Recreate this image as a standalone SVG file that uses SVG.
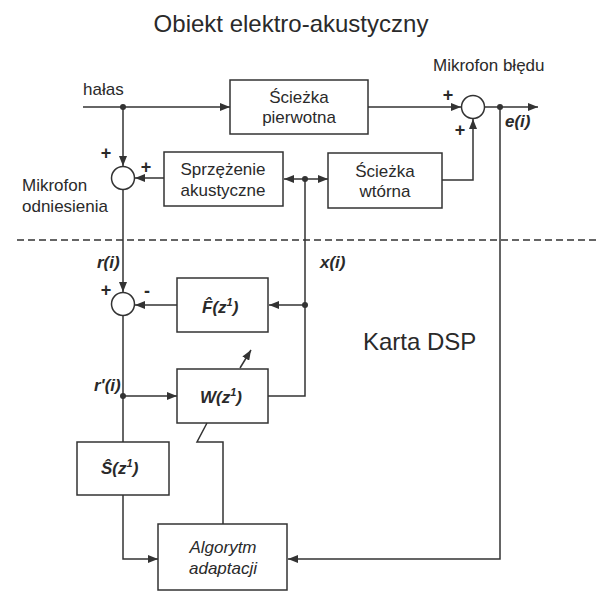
<svg xmlns="http://www.w3.org/2000/svg" width="598" height="592" viewBox="0 0 598 592">
<style>
.box{fill:none;stroke:#333;stroke-width:1.5}
.sum{fill:#fff;stroke:#333;stroke-width:1.5}
.ln{fill:none;stroke:#333;stroke-width:1.5}
.arr{marker-end:url(#ah)}
.dot{fill:#333}
text{font-family:"Liberation Sans",Arial,sans-serif;fill:#2a2a2a}
.t{font-size:17px}
.big{font-size:24px}
.c{text-anchor:middle}
.m{font-size:17px;font-style:italic;font-weight:bold}
.it{font-size:17px;font-style:italic}
.sg{font-size:18px;font-weight:bold}
</style>
<defs>
<marker id="ah" markerUnits="userSpaceOnUse" markerWidth="10" markerHeight="8" refX="10" refY="4" orient="auto">
<path d="M0,0 L10,4 L0,8 Z" fill="#333"/>
</marker>
</defs>
<rect width="598" height="592" fill="#fff"/>
<text class="big" x="291" y="32" text-anchor="middle">Obiekt elektro-akustyczny</text>
<text class="big" x="363" y="350">Karta DSP</text>
<text class="t" x="83" y="95">hałas</text>
<text class="t" x="22" y="191">Mikrofon</text>
<text class="t" x="22" y="212">odniesienia</text>
<text class="t" x="433" y="71">Mikrofon błędu</text>
<line x1="17" y1="240" x2="598" y2="240" stroke="#333" stroke-width="1.3" stroke-dasharray="7 4"/>
<g id="connectors">
<path class="ln arr" d="M83,107 H230"/>
<path class="ln arr" d="M123,107 V166"/>
<path class="ln arr" d="M164,178 H135"/>
<path class="ln arr" d="M123,190 V292"/>
<path class="ln arr" d="M305,179 H284"/>
<path class="ln arr" d="M305,179 H328"/>
<path class="ln arr" d="M368,107 H461"/>
<path class="ln arr" d="M442,180 H473 V119"/>
<path class="ln arr" d="M485,107 H538"/>
<path class="ln arr" d="M500,107 V559 H288"/>
<path class="ln" d="M305,179 V396 H268"/>
<path class="ln arr" d="M305,305 H269"/>
<path class="ln arr" d="M177,305 H135"/>
<path class="ln" d="M123,316 V442"/>
<path class="ln arr" d="M123,396 H177"/>
<path class="ln arr" d="M123,495 V559 H158"/>
<path class="ln" d="M207,423 L197,442 H223 V524"/>
<path class="ln arr" d="M240,368 L251,350"/>
<circle class="dot" cx="123" cy="107" r="3"/>
<circle class="dot" cx="305" cy="179" r="3"/>
<circle class="dot" cx="500" cy="107" r="3"/>
<circle class="dot" cx="305" cy="305" r="3"/>
<circle class="dot" cx="123" cy="396" r="3"/>
</g>
<g id="sum1">
<circle class="sum" cx="123" cy="178" r="11.5"/>
<text class="sg" x="106" y="159" text-anchor="middle">+</text>
<text class="sg" x="146" y="173" text-anchor="middle">+</text>
</g>
<g id="sum2">
<circle class="sum" cx="473" cy="107" r="11.5"/>
<text class="sg" x="448" y="101" text-anchor="middle">+</text>
<text class="sg" x="460" y="136" text-anchor="middle">+</text>
</g>
<g id="sum3">
<circle class="sum" cx="123" cy="304" r="11.5"/>
<text class="sg" x="106" y="296" text-anchor="middle">+</text>
<text class="sg" x="147" y="297" text-anchor="middle">-</text>
</g>
<g id="sciezka-pierwotna">
<rect class="box" x="230" y="80" width="138" height="54"/>
<text class="t c" x="299" y="103">Ścieżka</text>
<text class="t c" x="299" y="123">pierwotna</text>
</g>
<g id="sprzezenie">
<rect class="box" x="164" y="152" width="119" height="54"/>
<text class="t c" x="223" y="175">Sprzężenie</text>
<text class="t c" x="223" y="196">akustyczne</text>
</g>
<g id="sciezka-wtorna">
<rect class="box" x="328" y="153" width="114" height="55"/>
<text class="t c" x="385" y="177">Ścieżka</text>
<text class="t c" x="385" y="197">wtórna</text>
</g>
<g id="F">
<rect class="box" x="177" y="278" width="91" height="54"/>
<text class="m" x="202" y="313">F̂(z<tspan dy="-7" font-size="11">1</tspan><tspan dy="7">)</tspan></text>
</g>
<g id="W">
<rect class="box" x="177" y="369" width="91" height="54"/>
<text class="m" x="200" y="403">W(z<tspan dy="-7" font-size="11">1</tspan><tspan dy="7">)</tspan></text>
</g>
<g id="S">
<rect class="box" x="77" y="442" width="92" height="53"/>
<text class="m" x="101" y="474">Ŝ(z<tspan dy="-7" font-size="11">1</tspan><tspan dy="7">)</tspan></text>
</g>
<g id="algorytm">
<rect class="box" x="158" y="524" width="129" height="66"/>
<text class="it c" x="223" y="553">Algorytm</text>
<text class="it c" x="223" y="574">adaptacji</text>
</g>
<g id="labels">
<text class="m" x="97" y="268">r(i)</text>
<text class="m" x="94" y="391">r'(i)</text>
<text class="m" x="320" y="268">x(i)</text>
<text class="m" x="505" y="127">e(i)</text>
</g>
</svg>
